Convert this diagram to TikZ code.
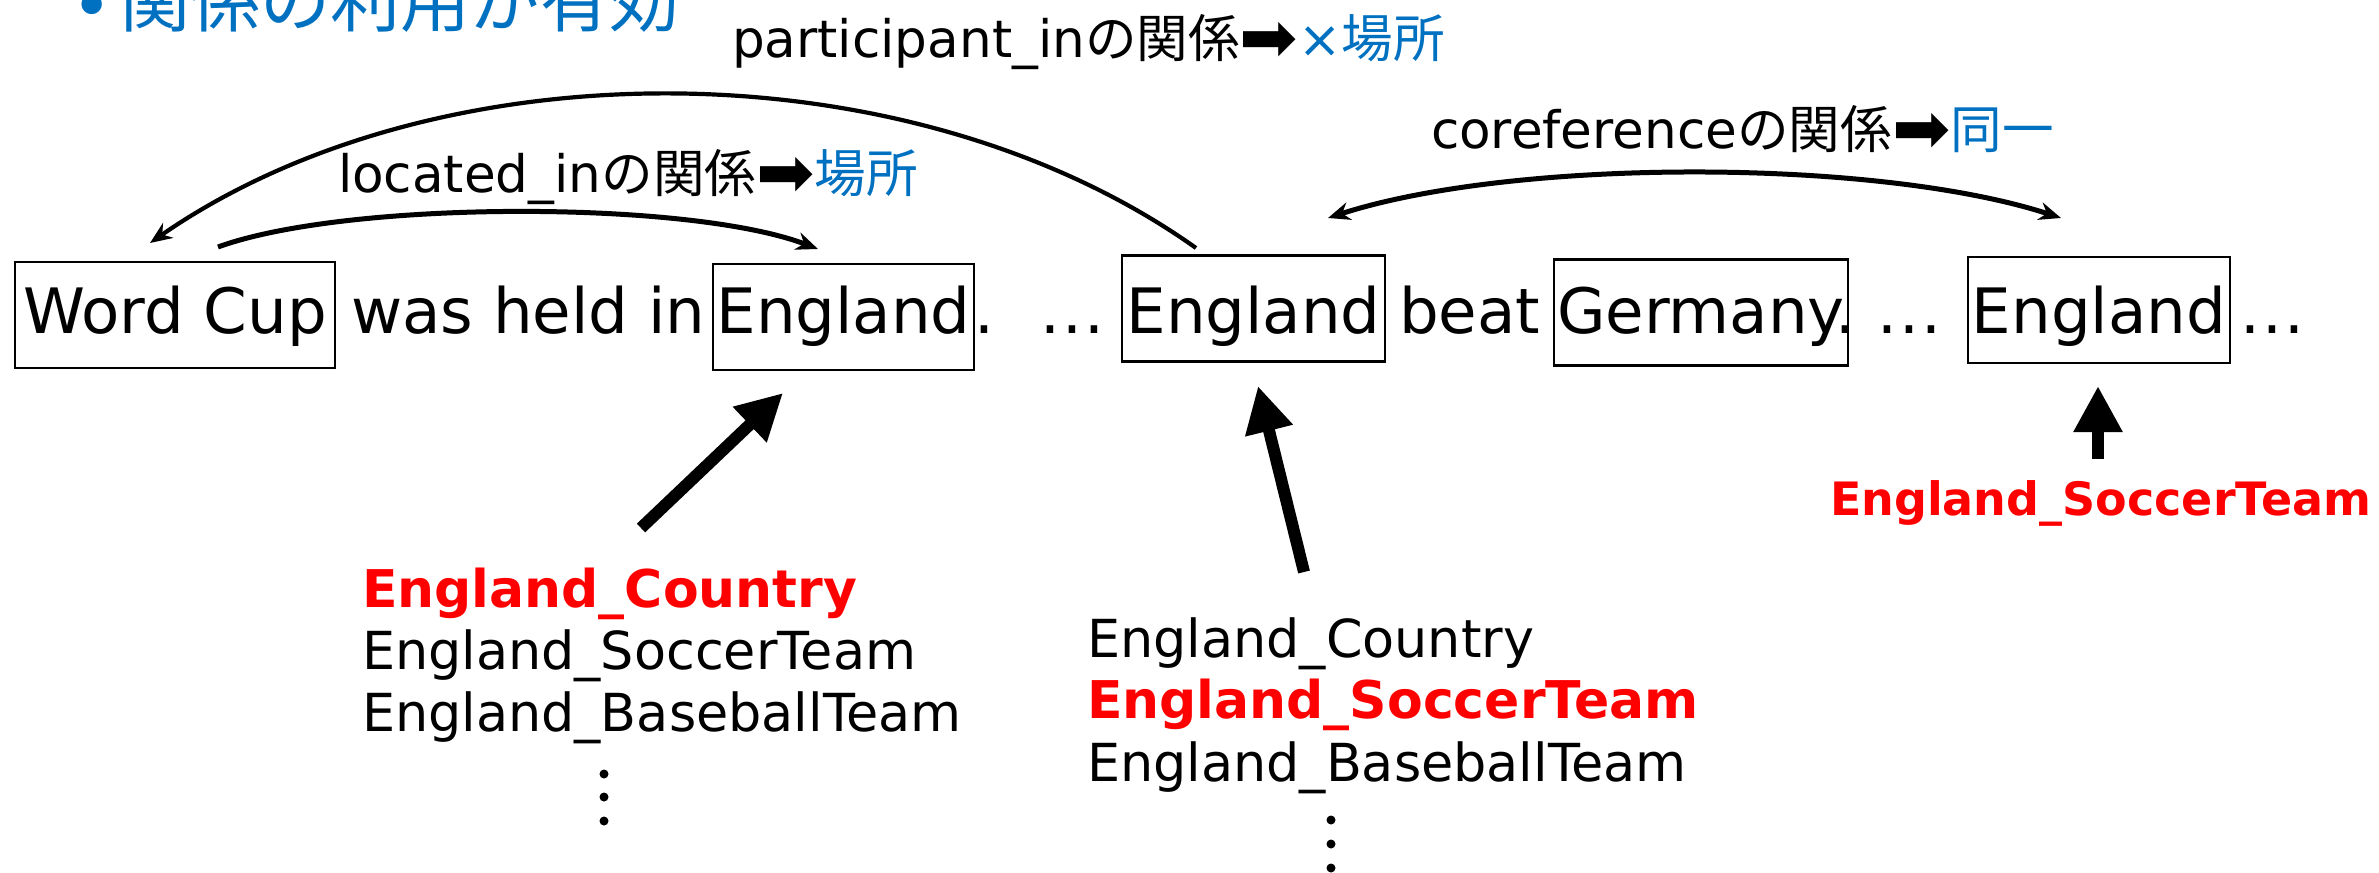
\documentclass[tikz,border=0pt]{standalone}
\usepackage{fontspec}
\setmainfont{DejaVu Sans}
\newfontfamily\jp{Noto Sans CJK JP}
\usetikzlibrary{arrows.meta}
\definecolor{ppblue}{RGB}{0,112,192}
\definecolor{ppred}{RGB}{255,0,0}
\newcommand{\bigrarr}{\raisebox{-0.08em}{\scalebox{1.35}{➡}}}
\newcommand{\wdots}{.\kern0.04em.\kern0.04em.}
\begin{document}
\begin{tikzpicture}[x=0.5pt,y=-0.5pt,
  every node/.style={inner sep=0pt, outer sep=0pt},
  word/.style={draw, line width=1.2pt, minimum height=53pt, text depth=5pt, font=\fontsize{31.3}{36}\selectfont},
  plain/.style={anchor=base west, font=\fontsize{31.3}{36}\selectfont},
  rel/.style={anchor=base west, font=\fontsize{25.8}{30}\selectfont},
  cand/.style={anchor=base west, font=\fontsize{26.2}{30}\selectfont},
  good/.style={anchor=base west, font=\fontsize{26}{30}\selectfont\bfseries, text=ppred},
  arc/.style={line width=2.5pt, -{Stealth[length=11pt,width=9pt]}},
  big/.style={line width=6pt, -{Triangle[length=23pt,width=23pt]}},
  ddot/.style={circle, fill, minimum size=4.5pt}
]
\useasboundingbox (0,0) rectangle (2379,873);
\clip (0,0) rectangle (2379,873);

% heading (cut off at top)
\node[anchor=base, font=\fontsize{35}{40}\selectfont, text=ppblue] (bl) at (92,30) {•};
\node[anchor=base west, font=\jp\fontsize{35}{40}\selectfont, text=ppblue] (hd) at (120,26) {関係の利用が有効};

% sentence row
\node[word, minimum width=160pt, text height=23pt] (wc) at (175,315) {Word Cup};
\node[plain] (t1) at (351,333) {was held in};
\node[word, minimum width=130.5pt, text height=21pt] (e1) at (843.5,317) {England};
\node[plain] (t2) at (974,333) {.};
\node[plain] (t3) at (1040,333) {\wdots};
\node[word, minimum width=131.5pt, text height=29.5pt] (e2) at (1253.5,308.5) {England};
\node[plain] (t4) at (1399,333) {beat};
\node[word, minimum width=147pt, text height=25.5pt] (ger) at (1701,312.5) {Germany};
\node[plain] (t5) at (1835,333) {.};
\node[plain] (t6) at (1877,333) {\wdots};
\node[word, minimum width=131pt, text height=28pt] (e3) at (2099,310) {England};
\node[plain] (t7) at (2240,333) {\wdots};

% relation labels
\node[rel] (lp) at (732,57) {participant\_in{\jp の関係}\bigrarr{\color{ppblue}×{\jp 場所}}};
\node[rel] (ll) at (338,192) {located\_in{\jp の関係}\bigrarr{\color{ppblue}\jp 場所}};
\node[rel] (lc) at (1431,148) {coreference{\jp の関係}\bigrarr{\color{ppblue}\jp 同一}};

% relation arcs
\coordinate (la) at (218,247);
\coordinate (lb) at (818,249);
\draw[arc] (la) .. controls (347,200) and (689,200) .. (lb);
\coordinate (pa) at (1196,248);
\coordinate (pb) at (150,243);
\draw[arc, line width=2.1pt] (pa) .. controls (909,44) and (437,44) .. (pb);
\coordinate (ca) at (1328,218);
\coordinate (cb) at (2061,218);
\draw[arc, {Stealth[length=11pt,width=9pt]}-{Stealth[length=11pt,width=9pt]}] (ca) .. controls (1513,158) and (1876,158) .. (cb);

% candidate lists
\node[good] (l1) at (362,607) {England\_Country};
\node[cand] (l2) at (362,669) {England\_SoccerTeam};
\node[cand] (l3) at (362,731) {England\_BaseballTeam};
\node[ddot] (ld1) at (604,774) {};
\node[ddot] (ld2) at (604,797) {};
\node[ddot] (ld3) at (604,821) {};

\node[cand] (m1) at (1087,657) {England\_Country};
\node[good] (m2) at (1087,718) {England\_SoccerTeam};
\node[cand] (m3) at (1087,781) {England\_BaseballTeam};
\node[ddot] (md1) at (1331,820) {};
\node[ddot] (md2) at (1331,844) {};
\node[ddot] (md3) at (1331,868) {};

\node[good, font=\fontsize{23}{27}\selectfont\bfseries] (r1) at (1830,515) {England\_SoccerTeam};

% thick arrows
\coordinate (a1s) at (641,528);
\coordinate (a1e) at (783,393);
\draw[big] (a1s) -- (a1e);
\coordinate (a2s) at (1304,572);
\coordinate (a2e) at (1258,386);
\draw[big] (a2s) -- (a2e);
\coordinate (a3s) at (2098,459);
\coordinate (a3e) at (2098,386);
\draw[big] (a3s) -- (a3e);
\end{tikzpicture}
\end{document}
